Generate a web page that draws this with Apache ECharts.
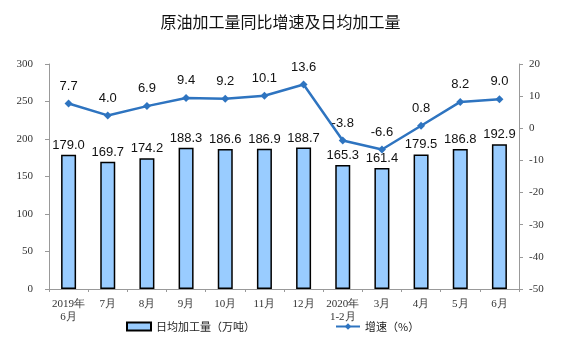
<!DOCTYPE html>
<html><head><meta charset="utf-8">
<script src="https://cdn.jsdelivr.net/npm/echarts@6/dist/echarts.min.js"></script>
<style>html,body{margin:0;padding:0;background:#fff}#c{width:561px;height:358px}</style>
</head><body><div id="c"></div>
<script>
const categories = ['2019年\n6月','7月','8月','9月','10月','11月','12月','2020年\n1-2月','3月','4月','5月','6月'];
const dailyOutput = [179.0,169.7,174.2,188.3,186.6,186.9,188.7,165.3,161.4,179.5,186.8,192.9];
const growthRate = [7.7,4.0,6.9,9.4,9.2,10.1,13.6,-3.8,-6.6,0.8,8.2,9.0];
const leftTicks = {min:0,max:300,interval:50};
const rightTicks = {min:-50,max:20,interval:10};

const chart = echarts.init(document.getElementById('c'));
const axisFont = {fontFamily:'Liberation Serif', fontSize:11, color:'#333'};
chart.setOption({
  animation:false,
  title:{text:'原油加工量同比增速及日均加工量',left:'center',top:9,
    textStyle:{fontFamily:'Noto Sans CJK SC',fontSize:16,fontWeight:'normal',color:'#111'}},
  grid:{left:49,right:42,top:64,bottom:69},
  legend:{left:121,top:316,itemGap:80,textStyle:{fontFamily:'Noto Sans CJK SC',fontSize:11,color:'#222'},
    data:[{name:'日均加工量（万吨）',icon:'rect'},{name:'增速（%）'}],itemWidth:24,itemHeight:8},
  xAxis:{type:'category',data:categories,boundaryGap:true,
    axisLine:{lineStyle:{color:'#999'}},axisTick:{show:true,length:3,lineStyle:{color:'#999'}},
    axisLabel:Object.assign({interval:0,lineHeight:13,margin:9},axisFont)},
  yAxis:[
    {type:'value',min:leftTicks.min,max:leftTicks.max,interval:leftTicks.interval,
     splitLine:{show:false},axisLine:{show:true,lineStyle:{color:'#999'}},
     axisTick:{show:true,length:4,lineStyle:{color:'#999'}},axisLabel:Object.assign({margin:16},axisFont)},
    {type:'value',min:rightTicks.min,max:rightTicks.max,interval:rightTicks.interval,
     splitLine:{show:false},axisLine:{show:true,lineStyle:{color:'#999'}},
     axisTick:{show:true,length:4,lineStyle:{color:'#999'}},axisLabel:Object.assign({margin:10},axisFont)}
  ],
  series:[
    {name:'日均加工量（万吨）',type:'bar',data:dailyOutput,barWidth:15,yAxisIndex:0,
     itemStyle:{color:'#99CCFF',borderColor:'#000',borderWidth:1.5},
     label:{show:true,position:'top',distance:3,formatter:p=>p.value.toFixed(1),
       fontFamily:'Liberation Sans',fontSize:13,color:'#111'}},
    {name:'增速（%）',type:'line',data:growthRate,yAxisIndex:1,
     symbol:'diamond',symbolSize:8,
     lineStyle:{color:'#2E74C0',width:2.5},itemStyle:{color:'#2E74C0'},
     label:{show:true,position:'top',distance:7,formatter:p=>p.value.toFixed(1),
       fontFamily:'Liberation Sans',fontSize:13,color:'#111'}}
  ]
});
</script></body></html>
